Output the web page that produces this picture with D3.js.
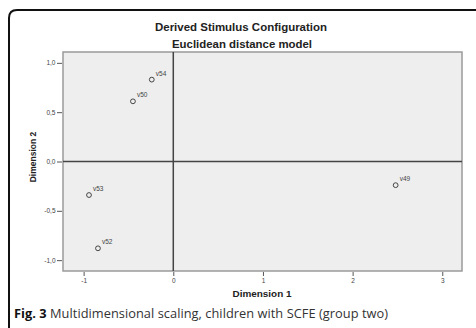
<!DOCTYPE html>
<html lang="en">
<head>
<meta charset="UTF-8">
<title>Derived Stimulus Configuration</title>
<script src="https://d3js.org/d3.v7.min.js"></script>
<style>
  body { margin: 0; padding: 0; background: white; }
  svg { display: block; }
</style>
</head>
<body>
<div id="chart"></div>
<script>
// stimulus coordinates
const labels = ["v49", "v50", "v52", "v53", "v54"];
const dim1 = [2.48, -0.45, -0.84, -0.94, -0.24];
const dim2 = [-0.24, 0.61, -0.88, -0.34, 0.83];
const xTicks = [-1, 0, 1, 2, 3];
const yTicks = [-1, -0.5, 0, 0.5, 1];

const width = 476, height = 328;
const plot = { left: 63, right: 462, top: 52, bottom: 271 };

const svg = d3.select("#chart").append("svg")
    .attr("width", width)
    .attr("height", height);

// outer figure frame, rounded top-left corner
svg.append("path")
    .attr("d", `M9,${height + 5} V18 Q9,10 17,10 H${width + 5}`)
    .attr("fill", "none")
    .attr("stroke", "#111")
    .attr("stroke-width", 2);

const x = d3.scaleLinear().domain([-1.23, 3.22]).range([plot.left, plot.right]);
const y = d3.scaleLinear().domain([-1.11, 1.11]).range([plot.bottom, plot.top]);

// titles
svg.append("text")
    .attr("x", 241).attr("y", 30.5)
    .attr("text-anchor", "middle")
    .attr("textLength", 172)
    .attr("lengthAdjust", "spacingAndGlyphs")
    .style("font", "bold 10.5px 'Liberation Sans', Arial, sans-serif")
    .attr("fill", "#222")
    .text("Derived Stimulus Configuration");
svg.append("text")
    .attr("x", 242).attr("y", 48)
    .attr("text-anchor", "middle")
    .attr("textLength", 140)
    .attr("lengthAdjust", "spacingAndGlyphs")
    .style("font", "bold 10.5px 'Liberation Sans', Arial, sans-serif")
    .attr("fill", "#222")
    .text("Euclidean distance model");

// plot background
svg.append("rect")
    .attr("x", plot.left).attr("y", plot.top)
    .attr("width", plot.right - plot.left)
    .attr("height", plot.bottom - plot.top)
    .attr("fill", "#eeeeee")
    .attr("stroke", "#9a9a9a")
    .attr("stroke-width", 1.5);

// zero reference lines
svg.append("line")
    .attr("x1", x(0)).attr("x2", x(0))
    .attr("y1", plot.top).attr("y2", plot.bottom)
    .attr("stroke", "#444").attr("stroke-width", 1.5);
svg.append("line")
    .attr("x1", plot.left).attr("x2", plot.right)
    .attr("y1", y(0)).attr("y2", y(0))
    .attr("stroke", "#444").attr("stroke-width", 1.5);

// axes
const commaFmt = d => d3.format(".1f")(d).replace(".", ",").replace("−", "-");

const yAxis = svg.append("g")
    .attr("transform", `translate(${plot.left - 1},0)`)
    .call(d3.axisLeft(y).tickValues(yTicks).tickFormat(commaFmt).tickSize(5).tickPadding(1.5));
const xAxis = svg.append("g")
    .attr("transform", `translate(0,${plot.bottom + 1})`)
    .call(d3.axisBottom(x).tickValues(xTicks).tickFormat(d => String(d)).tickSize(4).tickPadding(2));

[xAxis, yAxis].forEach(g => {
    g.select(".domain").remove();
    g.selectAll(".tick line").attr("stroke", "#555");
    g.selectAll(".tick text")
        .attr("fill", "#444")
        .style("font-family", "'Liberation Sans', Arial, sans-serif")
        .style("font-size", "6.5px");
});

// axis titles
svg.append("text")
    .attr("x", 262).attr("y", 297)
    .attr("text-anchor", "middle")
    .attr("textLength", 59)
    .attr("lengthAdjust", "spacingAndGlyphs")
    .style("font", "bold 8.5px 'Liberation Sans', Arial, sans-serif")
    .attr("fill", "#222")
    .text("Dimension 1");
svg.append("text")
    .attr("transform", "translate(36,157) rotate(-90)")
    .attr("text-anchor", "middle")
    .style("font", "bold 8.5px 'Liberation Sans', Arial, sans-serif")
    .attr("fill", "#222")
    .text("Dimension 2");

// points
const pts = labels.map((l, i) => ({ label: l, d1: dim1[i], d2: dim2[i] }));
const g = svg.append("g");
g.selectAll("circle")
    .data(pts)
    .join("circle")
    .attr("cx", d => x(d.d1))
    .attr("cy", d => y(d.d2))
    .attr("r", 2.4)
    .attr("fill", "none")
    .attr("stroke", "#333")
    .attr("stroke-width", 0.9);
g.selectAll("text")
    .data(pts)
    .join("text")
    .attr("x", d => x(d.d1) + 4)
    .attr("y", d => y(d.d2) - 4)
    .style("font", "6.5px 'Liberation Sans', Arial, sans-serif")
    .attr("fill", "#444")
    .text(d => d.label);

// caption
const cap = svg.append("text")
    .attr("x", 14).attr("y", 318)
    .attr("textLength", 374)
    .style("font-family", "'Open Sans', 'Noto Sans', sans-serif")
    .style("font-size", "12.8px")
    .attr("fill", "#333");
cap.append("tspan").style("font-weight", "bold").attr("fill", "#111").text("Fig. 3");
cap.append("tspan").text(" Multidimensional scaling, children with SCFE (group two)");
</script>
</body>
</html>
